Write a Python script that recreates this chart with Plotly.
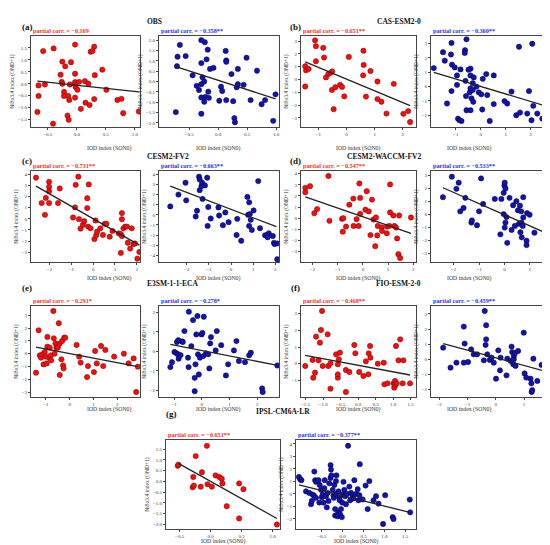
import plotly.graph_objects as go

# ---------------- data ----------------
# (a) OBS
obs_l_x = [-0.58, -0.40, -0.03, 0.24, 0.27, 0.30, -0.25, -0.20, -0.10, -0.28, -0.03, 0.44, 0.31, -0.66, -0.55,
           -0.26, -0.25, -0.12, -0.03, -0.03, 0.04, 0.14, 0.20, -0.02, 0.01, -0.22, -0.22, -0.66, -0.68, -0.15,
           -0.13, -0.03, 0.51, 0.07, 0.15, 0.22, 0.30, -0.16, -0.14, -0.41, 0.70, 0.77, 0.80, 1.07]
obs_l_y = [1.37, 1.48, 1.64, 1.34, 1.37, 1.55, 0.93, 0.73, 0.90, 0.38, 0.42, 0.59, 0.36, -0.07, -0.03,
           0.08, 0.00, -0.03, 0.07, -0.03, 0.08, 0.11, 0.00, -0.14, -0.25, -0.34, -0.51, -0.51, -1.18, -0.51,
           -0.68, -0.58, -0.25, -1.05, -0.79, -0.89, -0.64, -1.33, -1.51, -1.67, -0.68, -0.63, -1.23, -1.16]
obs_l_fit_x = [-0.68, 1.07]
obs_l_fit_y = [0.11, -0.34]

obs_r_x = [-0.73, -0.70, -0.66, -0.71, -0.56, -0.44, -0.37, -0.33, -0.29, -0.27, -0.29, -0.29, -0.23, -0.18,
           -0.20, -0.24, -0.22, -0.24, -0.29, -0.29, -0.17, -0.16, -0.14, -0.08, 0.05, 0.07, 0.02, 0.13, 0.14,
           0.14, 0.14, 0.23, 0.26, 0.28, 0.29, 0.32, 0.34, 0.34, 0.44, 0.49, 0.56, 0.67, 0.75, 0.81, 0.95, 0.99]
obs_r_y = [-1.48, 1.20, 1.77, 0.74, 1.23, 0.30, -0.21, -0.41, -0.13, 0.20, 0.89, 2.00, 1.90, 1.54,
           1.07, 0.00, -0.74, -0.98, -0.77, -1.56, -0.49, -0.79, 0.61, 0.66, -0.25, -0.46, -0.93, 1.48, 1.02,
           0.95, -0.90, 0.36, -0.95, -1.77, -1.97, -0.28, -0.13, 0.61, -0.16, 1.15, -0.90, 0.52, -1.10, -0.90, -1.90, -0.62]
obs_r_fit_x = [-0.73, 0.99]
obs_r_fit_y = [0.72, -0.84]

# (b) CAS-ESM2-0
cas_l_x = [-1.47, -1.47, -1.44, -1.35, -1.12, -1.09, -1.09, -0.83, -0.80, -0.73, -0.65, -0.56, -0.51, -0.52,
           -0.40, -0.46, -0.23, -0.16, -0.08, 0.08, 0.60, 0.61, 0.59, 0.69, 0.85, 1.10, 1.10, 1.24, 1.42, 1.68,
           2.02, 2.19, 2.26]
cas_l_y = [-0.55, 1.03, 0.71, 0.82, 3.05, 2.60, 1.42, 2.47, 1.71, 0.16, 0.42, 0.53, 0.63, -0.82,
           -0.61, -2.32, -0.42, -0.58, -1.32, 1.76, 2.24, 1.13, 0.32, -1.34, 0.66, -0.16, -1.53, -1.74, -2.66, -0.34,
           -2.68, -2.47, -3.32]
cas_l_fit_x = [-1.47, 2.26]
cas_l_fit_y = [1.37, -2.05]

cas_r_x = [-1.88, -1.51, -1.44, -1.35, -1.17, -1.19, -1.15, -1.17, -1.04, -0.95, -0.95, -0.91, -0.85, -0.77,
           -0.57, -0.81, -0.63, -0.64, -0.41, -0.41, -0.49, -0.61, -0.59, -0.44, -0.32, -0.41, -0.37, -0.30,
           -0.57, -0.41, -0.32, -0.28, -0.17, -0.08, 0.02, 0.06, 0.22, 0.08, 0.26, 0.36, 0.52, 0.52, 0.95, 1.06,
           1.23, 1.42, 1.53, 1.57, 1.86, 1.93, 2.06, 2.03, 2.10, 2.26, 2.46, 2.70]
cas_r_y = [1.29, 2.40, 1.81, -1.18, 3.05, 2.24, 1.53, -0.31, 1.34, 0.78, 0.12, -2.24, -2.35, -2.40,
           3.30, 1.20, 2.54, 2.35, 0.78, 1.25, 1.18, 0.40, -0.66, -0.40, -0.24, -0.12, -0.82, -1.06,
           -1.65, -1.65, 0.24, 0.64, 0.00, -0.40, -0.54, -1.60, 0.87, 0.54, -0.59, -2.40, 0.78, -1.22, -1.01, -1.18,
           -0.35, -2.00, 2.78, -1.81, -1.88, -0.31, 2.99, -2.35, -1.34, -1.88, -2.24, -0.64]
cas_r_fit_x = [-1.88, 2.70]
cas_r_fit_y = [1.00, -1.41]

# (c) CESM2-FV2
cesm_l_x = [-2.62, -2.36, -2.21, -2.17, -2.02, -2.02, -2.02, -2.02, -1.61, -1.53, -0.92, -0.83, -0.80, -0.68,
            -0.65, -0.58, -0.47, -0.41, -0.27, -0.27, -0.20, -0.23, -0.12, 0.06, 0.11, 0.14, 0.18, 0.33, 0.45,
            0.53, 0.61, 0.76, 0.89, 1.17, 1.26, 1.32, 1.32, 1.32, 1.27, 1.39, 1.47, 1.55, 1.59, 1.70, 1.77,
            1.85, 1.92, 2.03, 2.12]
cesm_l_y = [3.70, 1.42, 0.36, 1.88, 3.33, 2.88, 2.48, 1.42, 1.42, 2.73, 0.12, 1.03, 3.06, 3.79,
            -0.03, -0.88, -0.55, -0.21, 1.85, 0.97, 3.09, -0.70, -0.85, -1.82, -0.15, -1.48, -1.15, -0.85, -1.45,
            -0.45, -0.45, -1.60, -1.09, -1.30, -1.36, 0.52, -0.03, -1.55, -3.06, -0.85, -0.70, -0.70, -2.15, -2.67, -0.85,
            -2.27, -2.21, -3.58, -2.97]
cesm_l_fit_x = [-2.62, 2.12]
cesm_l_fit_y = [2.94, -2.36]

cesm_r_x = [-2.75, -2.38, -2.06, -2.03, -1.60, -1.54, -1.45, -1.42, -1.42, -1.34, -1.31, -1.29, -1.18, -1.08,
            -1.06, -1.03, -0.92, -0.57, -0.54, -0.26, -0.37, -0.11, 0.25, 0.28, 0.46, 0.74, 0.77, 0.82, 0.85,
            0.89, 0.82, 0.94, 1.02, 1.23, 1.31, 1.54, 1.63, 1.66, 1.71, 1.89, 1.94, 1.97, 2.09, 2.09]
cesm_r_y = [0.83, 2.00, 3.17, 1.43, -0.17, 0.40, 3.77, 2.43, 3.50, 2.83, 3.17, 1.57, 2.90, 3.67,
            -1.10, 0.77, -0.37, 0.73, -0.07, 0.23, -1.03, -0.73, -2.00, -0.40, -2.57, 1.77, 0.00, 1.23, 0.07,
            -0.50, -1.10, -1.50, 0.43, 3.33, -1.33, -2.03, -2.00, -2.23, -1.83, -2.10, -2.77, -2.90, -2.83, -4.40]
cesm_r_fit_x = [-2.75, 2.05]
cesm_r_fit_y = [2.83, -1.17]

# (d) CESM2-WACCM-FV2
waccm_l_x = [-2.29, -2.29, -2.10, -1.93, -1.82, -1.37, -1.33, -0.83, -0.78, -0.80, -0.67, -0.54, -0.38, -0.37,
             -0.25, -0.17, -0.14, -0.11, -0.11, 0.10, 0.15, 0.23, 0.30, 0.36, 0.42, 0.52, 0.49, 0.57, 0.59,
             0.75, 0.76, 0.95, 0.96, 1.05, 1.08, 1.08, 1.21, 1.25, 1.32, 1.36, 1.44, 1.41, 1.48, 1.91]
waccm_l_y = [2.73, 2.33, 2.88, 0.45, 0.82, 3.79, -0.24, -0.06, 0.00, -1.21, -0.76, 1.21, 1.76, -0.70,
             -0.09, -0.70, 3.12, 1.82, 0.39, 0.76, 2.42, 0.61, -1.52, 1.67, -0.12, 0.06, -2.52, -1.55, -0.70,
             -0.82, -1.15, -1.36, -0.76, -0.70, 3.03, 0.52, 0.24, -0.70, -0.85, -1.82, 0.24, -3.24, -3.58, 0.06]
waccm_l_fit_x = [-2.29, 1.91]
waccm_l_fit_y = [1.91, -1.36]

waccm_r_x = [-2.42, -2.07, -1.89, -1.80, -1.74, -1.61, -1.54, -1.30, -1.28, -1.08, -1.00, -0.92, -0.84, -0.38,
             -0.16, -0.12, -0.03, -0.03, 0.00, 0.01, 0.04, 0.01, 0.04, 0.08, 0.11, 0.20, 0.28, 0.34, 0.41, 0.47,
             0.53, 0.57, 0.61, 0.63, 0.66, 0.67, 0.68, 0.74, 0.74, 0.72, 0.87, 0.87, 0.89, 0.99, 1.18, 1.59,
             1.64, 1.68, 1.75]
waccm_r_y = [1.30, 2.88, 1.95, 2.42, 0.21, 0.47, 1.25, -0.65, -0.49, -0.86, 0.21, 2.75, 0.78, 1.17,
             -1.56, 1.17, 0.00, 1.64, 2.21, 2.42, 1.97, -1.04, -0.65, -0.23, -2.21, 1.25, -1.22, 0.68, -0.91, 0.99,
             0.29, -0.75, 0.65, -1.40, 0.21, -0.65, -1.79, 1.30, -0.26, -0.91, -2.05, -2.39, 0.08, -0.05, -1.43, -1.61,
             -1.56, -3.35, -3.17]
waccm_r_fit_x = [-2.42, 1.72]
waccm_r_fit_y = [2.03, -1.53]

# (e) E3SM-1-1-ECA
e3sm_l_x = [-1.42, -1.31, -1.26, -1.21, -1.15, -1.10, -1.05, -1.01, -0.97, -0.94, -0.94, -0.87, -0.84, -0.80,
            -0.78, -0.69, -0.67, -0.64, -0.60, -0.56, -0.50, -0.46, -0.43, -0.42, -0.35, -0.32, -0.28, -0.26,
            -0.23, -0.19, 0.29, 0.40, 0.46, 0.73, 0.77, 1.02, 1.07, 1.14, 1.32, 1.41, 1.50, 1.87, 2.28, 2.48,
            2.69, 2.80, 2.87]
e3sm_l_y = [-1.49, 1.83, -0.13, -0.31, -0.05, -0.84, 0.13, -0.23, -0.76, 0.55, 1.31, -0.31, 0.47, -0.13,
            -0.52, 3.34, 1.20, 0.00, 0.81, 0.47, 0.47, 2.38, 0.78, -1.67, -0.44, 0.99, -0.91, -1.15,
            1.25, 1.25, 0.68, -0.23, -0.70, -1.83, -0.97, -1.44, 0.21, -0.76, 0.60, -0.97, 0.29, -0.23, 0.00, -0.76,
            -0.37, -3.00, -1.02]
e3sm_l_fit_x = [-1.42, 2.87]
e3sm_l_fit_y = [0.52, -1.02]

e3sm_r_x = [-1.14, -1.08, -0.99, -0.91, -0.90, -0.85, -0.87, -0.84, -0.77, -0.71, -0.69, -0.63, -0.50, -0.48,
            -0.47, -0.38, -0.32, -0.26, -0.26, -0.23, -0.20, -0.16, -0.14, -0.11, -0.07, -0.01, 0.02, 0.05, 0.07,
            0.15, 0.23, 0.27, 0.30, 0.33, 0.50, 0.54, 0.70, 0.87, 0.95, 1.16, 1.25, 1.34, 1.56, 1.71, 1.77,
            2.18, 2.20, 2.73]
e3sm_r_y = [-0.80, -0.55, -0.03, -0.10, 0.48, 0.58, -0.15, -0.37, -0.19, 0.51, 0.48, 1.04, -0.32, -0.80,
            2.03, 0.27, 1.60, -1.35, -2.03, -0.66, 0.87, 1.81, -0.15, -1.18, -0.32, 0.87, 0.95, -0.24, 1.77,
            -0.10, -0.15, -0.87, 0.41, 0.73, 0.05, 1.04, 0.32, -1.23, -0.66, 0.05, 0.53, -0.49, -0.55, -0.20, -0.07,
            -1.89, -2.08, -0.72]
e3sm_r_fit_x = [-1.14, 2.69]
e3sm_r_fit_y = [0.36, -0.70]

# (f) FIO-ESM-2-0
fio_l_x = [-1.51, -1.30, -1.28, -1.23, -1.20, -1.13, -1.09, -1.06, -1.03, -1.01, -0.87, -0.85, -0.79, -0.79,
           -0.63, -0.58, -0.58, -0.58, -0.55, -0.52, -0.35, -0.35, -0.25, -0.11, -0.08, 0.03, 0.15, 0.22, 0.29,
           0.30, 0.34, 0.35, 0.56, 0.73, 0.75, 0.84, 1.01, 1.03, 1.05, 1.06, 1.08, 1.10, 1.15, 1.20, 1.27, 1.29,
           1.48]
fio_l_y = [-0.14, 0.22, -0.84, -0.54, 1.62, 0.20, 1.26, 2.02, 3.16, -0.14, 1.76, -0.14, 0.02, -1.50,
           0.56, -0.84, -0.64, -0.04, 0.26, 0.66, -1.70, -0.38, -0.50, 1.12, 0.62, -0.50, -0.74, 0.14, -0.64,
           0.62, 1.06, 0.36, 0.00, 0.06, -1.24, -1.18, -1.18, -1.44, -1.04, -1.28, 1.06, -1.18, 0.20, 1.46, -1.18, 0.20,
           -1.18]
fio_l_fit_x = [-1.51, 1.48]
fio_l_fit_y = [0.50, -0.68]

fio_r_x = [-1.86, -1.60, -1.39, -1.13, -1.10, -1.13, -0.98, -0.87, -0.78, -0.66, -0.42, -0.39, -0.36, -0.34,
           -0.34, -0.30, -0.21, -0.15, -0.07, 0.01, 0.09, 0.15, 0.17, 0.38, 0.41, 0.52, 0.56, 0.58, 0.64, 0.62,
           0.64, 0.68, 0.70, 0.79, 0.99, 1.02, 1.08, 1.23, 1.26, 1.27, 1.29, 1.33, 1.47, 1.62, 1.86]
fio_r_y = [0.77, -0.55, -0.22, 2.16, 1.04, -0.22, -0.18, 0.66, 0.33, 0.33, -0.07, 3.19, 0.95, 1.32,
           2.25, 0.33, -0.04, 0.11, -0.22, -1.28, 0.59, -0.73, 0.11, -1.06, 0.04, -0.11, 0.84, 0.48, 0.22, -0.33,
           0.00, 0.40, -0.44, 0.55, 1.76, -0.93, -1.21, -1.28, -1.59, -2.16, -2.03, 0.04, -1.43, -0.37, 0.26]
fio_r_fit_x = [-1.86, 1.86]
fio_r_fit_y = [1.04, -0.84]

# (g) IPSL-CM6A-LR
ipsl_l_x = [-0.53, -0.52, -0.29, -0.28, -0.27, -0.24, -0.16, -0.14, -0.06, -0.05, 0.02, 0.08, 0.14, 0.18,
            0.19, 0.26, 0.46, 0.46, 0.53, 1.07]
ipsl_l_y = [0.73, 0.78, -0.27, 0.21, -0.19, 1.18, -0.24, 0.43, 1.66, -0.13, -0.24, 0.28, 0.21, 0.13,
            -0.09, -1.15, -0.09, -1.72, -0.36, -2.00]
ipsl_l_fit_x = [-0.52, 1.07]
ipsl_l_fit_y = [0.84, -1.72]

ipsl_r_x = [-1.05, -1.02, -0.99, -0.88, -0.80, -0.76, -0.74, -0.72, -0.69, -0.68, -0.66, -0.64, -0.64, -0.58,
            -0.56, -0.55, -0.52, -0.50, -0.48, -0.46, -0.44, -0.43, -0.40, -0.38, -0.36, -0.34, -0.32, -0.29,
            -0.29, -0.28, -0.27, -0.24, -0.22, -0.21, -0.20, -0.18, -0.18, -0.16, -0.16, -0.15, -0.12, -0.10,
            -0.10, -0.08, -0.07, -0.06, -0.04, -0.02, -0.01, 0.00, 0.02, 0.04, 0.06, 0.08, 0.10, 0.13, 0.16,
            0.18, 0.20, 0.24, 0.26, 0.28, 0.32, 0.36, 0.38, 0.40, 0.41, 0.48, 0.55, 0.60, 0.64, 0.74, 0.80,
            0.86, 0.97, 1.02, 1.20, 1.22, 1.61, 1.62]
ipsl_r_y = [1.36, 1.18, 1.10, 0.21, 0.08, -0.82, -0.56, -0.05, -0.13, 1.79, 1.10, -0.31, 0.97, 1.10,
            -0.69, 0.72, 0.33, -0.26, -0.05, -0.69, 0.46, 1.10, -0.18, -1.08, 0.08, -0.56, 0.85, 1.28,
            2.31, 1.95, 1.49, 0.33, -0.13, -0.31, 0.72, -1.72, -1.21, 0.00, 1.03, 1.49, -1.79, 0.21,
            -1.46, -0.31, -0.51, -1.64, -1.21, -1.85, -0.69, -0.05, 0.97, 0.33, -0.18, -0.82, 0.00, 3.85, 0.59,
            -0.51, 0.08, -0.10, -0.36, 1.10, 0.00, 0.38, -0.51, -0.10, 2.38, -0.44, 0.67, -1.21, 1.03, -0.51, -0.18,
            -0.77, -2.40, -0.10, -1.85, -2.00, -0.45, -1.47]
ipsl_r_fit_x = [-1.05, 1.61]
ipsl_r_fit_y = [0.72, -1.47]

model_names = ["OBS", "CAS-ESM2-0", "CESM2-FV2", "CESM2-WACCM-FV2", "E3SM-1-1-ECA", "FIO-ESM-2-0", "IPSL-CM6A-LR"]
panel_letters = ["(a)", "(b)", "(c)", "(d)", "(e)", "(f)", "(g)"]
corr_red = ["−0.169", "−0.651**", "−0.731**", "−0.547**", "−0.291*", "−0.468**", "−0.651**"]
corr_blue = ["−0.358**", "−0.360**", "−0.663**", "−0.533**", "−0.278*", "−0.459**", "−0.377**"]

# ---------------- layout ----------------
W, H = 550, 545
FONT = "Liberation Serif"
RED, RED_EDGE, RED_TXT = "#f01010", "#7a0000", "#ff2a2a"
BLUE, BLUE_EDGE, BLUE_TXT = "#1414a8", "#00004a", "#2a2aff"

rows = [(28, 119), (163, 254), (298, 389), (432, 521)]
cols = [(23, 132), (151, 271), (293, 408), (423, 546)]
cols_g = [(158, 272), (288, 408)]


def ticks(lo, hi, step, nd):
    vals, v = [], lo
    while v <= hi + 1e-9:
        vals.append(round(v, 3))
        v += step
    return vals, [f"{x:.{nd}f}".replace("-", "−") for x in vals]


# (data x, data y, fit x, fit y, colour, x range, y range, x ticks, y ticks, box x px, row)
panels = [
    (obs_l_x, obs_l_y, obs_l_fit_x, obs_l_fit_y, "r", [-0.79, 1.09], [-1.81, 2.0], (-0.5, 1.0, 0.5, 1), (-1.5, 1.5, 0.5, 1), cols[0], 0),
    (obs_r_x, obs_r_y, obs_r_fit_x, obs_r_fit_y, "b", [-1.02, 1.05], [-2.2, 2.2], (-0.5, 1.0, 0.5, 1), (-2.0, 2.0, 0.5, 1), cols[1], 0),
    (cas_l_x, cas_l_y, cas_l_fit_x, cas_l_fit_y, "r", [-1.62, 2.47], [-3.71, 3.39], (-1, 2, 1, 0), (-3, 3, 1, 0), cols[2], 0),
    (cas_r_x, cas_r_y, cas_r_fit_x, cas_r_fit_y, "b", [-1.99, 2.93], [-2.82, 3.53], (-1, 2, 1, 0), (-2, 3, 1, 0), cols[3], 0),
    (cesm_l_x, cesm_l_y, cesm_l_fit_x, cesm_l_fit_y, "r", [-2.85, 2.15], [-3.88, 4.3], (-2, 2, 1, 0), (-3, 4, 1, 0), cols[0], 1),
    (cesm_r_x, cesm_r_y, cesm_r_fit_x, cesm_r_fit_y, "b", [-3.26, 2.17], [-4.67, 4.33], (-2, 2, 1, 0), (-4, 4, 1, 0), cols[1], 1),
    (waccm_l_x, waccm_l_y, waccm_l_fit_x, waccm_l_fit_y, "r", [-2.46, 2.11], [-3.94, 4.24], (-2, 2, 1, 0), (-4, 4, 1, 0), cols[2], 1),
    (waccm_r_x, waccm_r_y, waccm_r_fit_x, waccm_r_fit_y, "b", [-2.89, 1.95], [-3.69, 3.32], (-2, 1, 1, 0), (-3, 3, 1, 0), cols[3], 1),
    (e3sm_l_x, e3sm_l_y, e3sm_l_fit_x, e3sm_l_fit_y, "r", [-1.63, 2.96], [-3.39, 3.73], (-1, 2, 1, 0), (-3, 3, 1, 0), cols[0], 2),
    (e3sm_r_x, e3sm_r_y, e3sm_r_fit_x, e3sm_r_fit_y, "b", [-1.55, 2.79], [-2.33, 2.32], (-1, 2, 1, 0), (-2, 2, 1, 0), cols[1], 2),
    (fio_l_x, fio_l_y, fio_l_fit_x, fio_l_fit_y, "r", [-1.63, 1.65], [-2.0, 3.46], (-1.5, 1.5, 0.5, 1), (-1, 3, 1, 0), cols[2], 2),
    (fio_r_x, fio_r_y, fio_r_fit_x, fio_r_fit_y, "b", [-2.29, 2.06], [-2.49, 3.52], (-2, 1, 1, 0), (-2, 3, 1, 0), cols[3], 2),
    (ipsl_l_x, ipsl_l_y, ipsl_l_fit_x, ipsl_l_fit_y, "r", [-0.72, 1.12], [-2.21, 1.93], (-0.5, 1.0, 0.5, 1), (-2.0, 1.5, 0.5, 1), cols_g[0], 3),
    (ipsl_r_x, ipsl_r_y, ipsl_r_fit_x, ipsl_r_fit_y, "b", [-1.12, 1.76], [-2.8, 4.31], (-0.5, 1.5, 0.5, 1), (-2, 4, 1, 0), cols_g[1], 3),
]

fig = go.Figure()
layout = dict(
    width=W, height=H, margin=dict(l=0, r=0, t=0, b=0),
    paper_bgcolor="white", plot_bgcolor="white", showlegend=False,
    font=dict(family=FONT, color="#222"), annotations=[],
)

for i, (xs, ys, fx, fy, kind, xr, yr, xt, yt, (x0, x1), row) in enumerate(panels):
    n = i + 1
    xa, ya = f"x{n}", f"y{n}"
    top, bot = rows[row]
    fill, edge, txt = (RED, RED_EDGE, RED_TXT) if kind == "r" else (BLUE, BLUE_EDGE, BLUE_TXT)
    fig.add_trace(go.Scatter(x=xs, y=ys, mode="markers", xaxis=xa, yaxis=ya,
                             marker=dict(size=5.3, color=fill, line=dict(color=edge, width=0.5))))
    fig.add_trace(go.Scatter(x=fx, y=fy, mode="lines", xaxis=xa, yaxis=ya,
                             line=dict(color="#222", width=1.3)))
    xv, xtxt = ticks(*xt)
    yv, ytxt = ticks(*yt)
    common = dict(showgrid=False, zeroline=False, showline=True, mirror=True, linecolor="#444",
                  linewidth=1, ticks="outside", ticklen=2, tickwidth=0.7, tickcolor="#444",
                  tickfont=dict(size=5, family=FONT, color="#333"))
    layout[f"xaxis{n}"] = dict(common, domain=[x0 / W, x1 / W], anchor=ya, range=xr,
                               tickvals=xv, ticktext=xtxt)
    layout[f"yaxis{n}"] = dict(common, domain=[1 - bot / H, 1 - top / H], anchor=xa, range=yr,
                               tickvals=yv, ticktext=ytxt,
                               title=dict(text="Niño3.4 index (OND+1)", font=dict(size=5.5, family=FONT, color="#333"), standoff=2))
    # x axis title placed under the tick labels
    layout["annotations"].append(dict(
        text="IOD index (SON0)", x=(x0 + x1) / 2 / W, y=1 - (bot + 16.5) / H, xref="paper", yref="paper",
        showarrow=False, borderpad=0, font=dict(size=5.8, family=FONT, color="#333")))
    label = corr_red[i // 2] if kind == "r" else corr_blue[i // 2]
    layout["annotations"].append(dict(
        text=f"<b>partial corr. = {label}</b>", x=(x0 + 1) / W, y=1 - (top - 1) / H,
        xref="paper", yref="paper", xanchor="left", yanchor="bottom", showarrow=False,
        borderpad=0, font=dict(size=6.2, family=FONT, color=txt)))

# group titles
title_pos = [(12, 137, 12, 7), (287, 415, 12, 7), (12, 137, 146, 142), (287, 415, 146, 142),
             (12, 137, 280, 275), (287, 415, 280, 275), (156, 275, 413, 410)]
for (lx, tx, ly, ty), letter, name in zip(title_pos, panel_letters, model_names):
    layout["annotations"].append(dict(text=f"<b>{letter}</b>", x=lx / W, y=1 - ly / H, xref="paper", yref="paper",
                                      showarrow=False, font=dict(size=9, family=FONT, color="#111")))
    layout["annotations"].append(dict(text=f"<b>{name}</b>", x=tx / W, y=1 - ty / H, xref="paper", yref="paper",
                                      showarrow=False, font=dict(size=7.5, family=FONT, color="#111")))

fig.update_layout(**layout)
fig.write_html("out.html")
